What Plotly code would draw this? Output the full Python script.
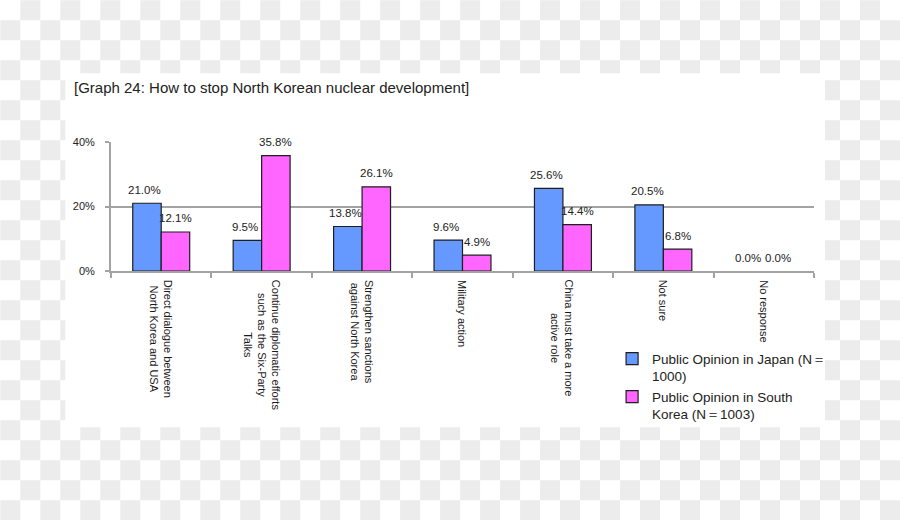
import plotly.graph_objects as go

# ---------------- data ----------------
categories = [
    "Direct dialogue between<br>North Korea and USA",
    "Continue diplomatic efforts<br>such as the Six-Party<br>Talks",
    "Strengthen sanctions<br>against North Korea",
    "Military action",
    "China must take a more<br>active role",
    "Not sure",
    "No response",
]
japan = [21.0, 9.5, 13.8, 9.6, 25.6, 20.5, 0.0]
korea = [12.1, 35.8, 26.1, 4.9, 14.4, 6.8, 0.0]
series_names = ["Public Opinion in Japan (N＝<br>1000)",
                "Public Opinion in South<br>Korea (N＝1003)"]
y_ticks = [0, 20, 40]
y_tick_labels = ["0%", "20%", "40%"]
title_text = "[Graph 24: How to stop North Korean nuclear development]"

# ---------------- layout constants ----------------
W, H = 900, 520
ML, MR, MT, MB = 110.7, 86, 141.7, 249.3
PW, PH = W - ML - MR, H - MT - MB
BLUE, PINK, EDGE = "#6699ff", "#ff66ff", "#1e1e1e"
BARGAP = 0.433
cat_px = PW / len(categories)
bar_px = cat_px * (1 - BARGAP) / 2


def fig_to_paper_x(px):
    return (px - ML) / PW


def fig_to_paper_y(py):
    return (H - MB - py) / PH


fig = go.Figure()
for vals, name, color in ((japan, series_names[0], BLUE), (korea, series_names[1], PINK)):
    fig.add_trace(go.Bar(
        x=categories, y=vals, name=name,
        marker=dict(color=color,
                    line=dict(color=EDGE, width=[1.2 if v > 0 else 0 for v in vals]))))

annotations = []
# value labels
for vals, sx in ((japan, -bar_px / 2 - 2), (korea, bar_px / 2)):
    for c, v in zip(categories, vals):
        annotations.append(dict(x=c, y=v, xref="x", yref="y", text=f"{v:.1f}%",
                                showarrow=False, xshift=sx, yshift=13.5,
                                xanchor="center", yanchor="middle",
                                font=dict(family="Liberation Sans", size=11.5, color="#222")))
# category labels (rotated, centred lines)
for c in categories:
    annotations.append(dict(x=c, y=0, xref="x", yref="y", text=c, showarrow=False,
                            textangle=90, align="center", yshift=-7,
                            xanchor="center", yanchor="top",
                            font=dict(family="Liberation Sans", size=11, color="#1a1a1a")))
# title
annotations.append(dict(x=fig_to_paper_x(72), y=fig_to_paper_y(87), xref="paper", yref="paper",
                        text=title_text, showarrow=False, xanchor="left", yanchor="middle",
                        font=dict(family="Liberation Sans", size=15, color="#222")))

# ---------------- checkered backdrop outside the white card ----------------
cell = 20
parts = []
for r in range(H // cell + 1):
    for col in range(W // cell + 1):
        if (r + col) % 2 == 1:
            x0, x1 = col * cell, min((col + 1) * cell, W)
            y0, y1 = r * cell, min((r + 1) * cell, H)
            if x0 >= W or y0 >= H:
                continue
            parts.append("M{:.4f},{:.4f}L{:.4f},{:.4f}L{:.4f},{:.4f}L{:.4f},{:.4f}Z".format(
                fig_to_paper_x(x0), fig_to_paper_y(y0),
                fig_to_paper_x(x1), fig_to_paper_y(y0),
                fig_to_paper_x(x1), fig_to_paper_y(y1),
                fig_to_paper_x(x0), fig_to_paper_y(y1)))
shapes = [
    dict(type="path", path="".join(parts), xref="paper", yref="paper",
         fillcolor="#ececec", line=dict(width=0), layer="below"),
    dict(type="rect", xref="paper", yref="paper",
         x0=fig_to_paper_x(65), x1=fig_to_paper_x(825),
         y0=fig_to_paper_y(427), y1=fig_to_paper_y(73),
         fillcolor="white", line=dict(width=0), layer="below"),
]

GRID = "#a3a3a3"
fig.update_layout(
    width=W, height=H,
    margin=dict(l=ML, r=MR, t=MT, b=MB, pad=0),
    paper_bgcolor="white", plot_bgcolor="rgba(0,0,0,0)",
    barmode="group", bargap=BARGAP, bargroupgap=0,
    font=dict(family="Liberation Sans", color="#222"),
    xaxis=dict(showticklabels=False, ticks="outside", tickson="boundaries",
               ticklen=5, tickcolor=GRID, tickwidth=1.5,
               showline=True, linecolor=GRID, linewidth=1.8,
               showgrid=False, zeroline=False, fixedrange=True),
    yaxis=dict(range=[0, 40], tickvals=y_ticks, ticktext=y_tick_labels,
               ticks="outside", ticklen=4, tickcolor=GRID, tickwidth=1.5,
               showline=True, linecolor=GRID, linewidth=1.8,
               showgrid=True, gridcolor=GRID, gridwidth=1.5, zeroline=False,
               tickfont=dict(family="Liberation Sans", size=11, color="#222"),
               ticklabelstandoff=8),
    legend=dict(x=fig_to_paper_x(612), y=fig_to_paper_y(343), xanchor="left", yanchor="top",
                bgcolor="rgba(0,0,0,0)", font=dict(family="Liberation Sans", size=13.5, color="#222"),
                valign="top", itemwidth=30, tracegroupgap=0, traceorder="normal"),
    showlegend=True,
    annotations=annotations,
    shapes=shapes,
)

fig.write_html("out.html")
